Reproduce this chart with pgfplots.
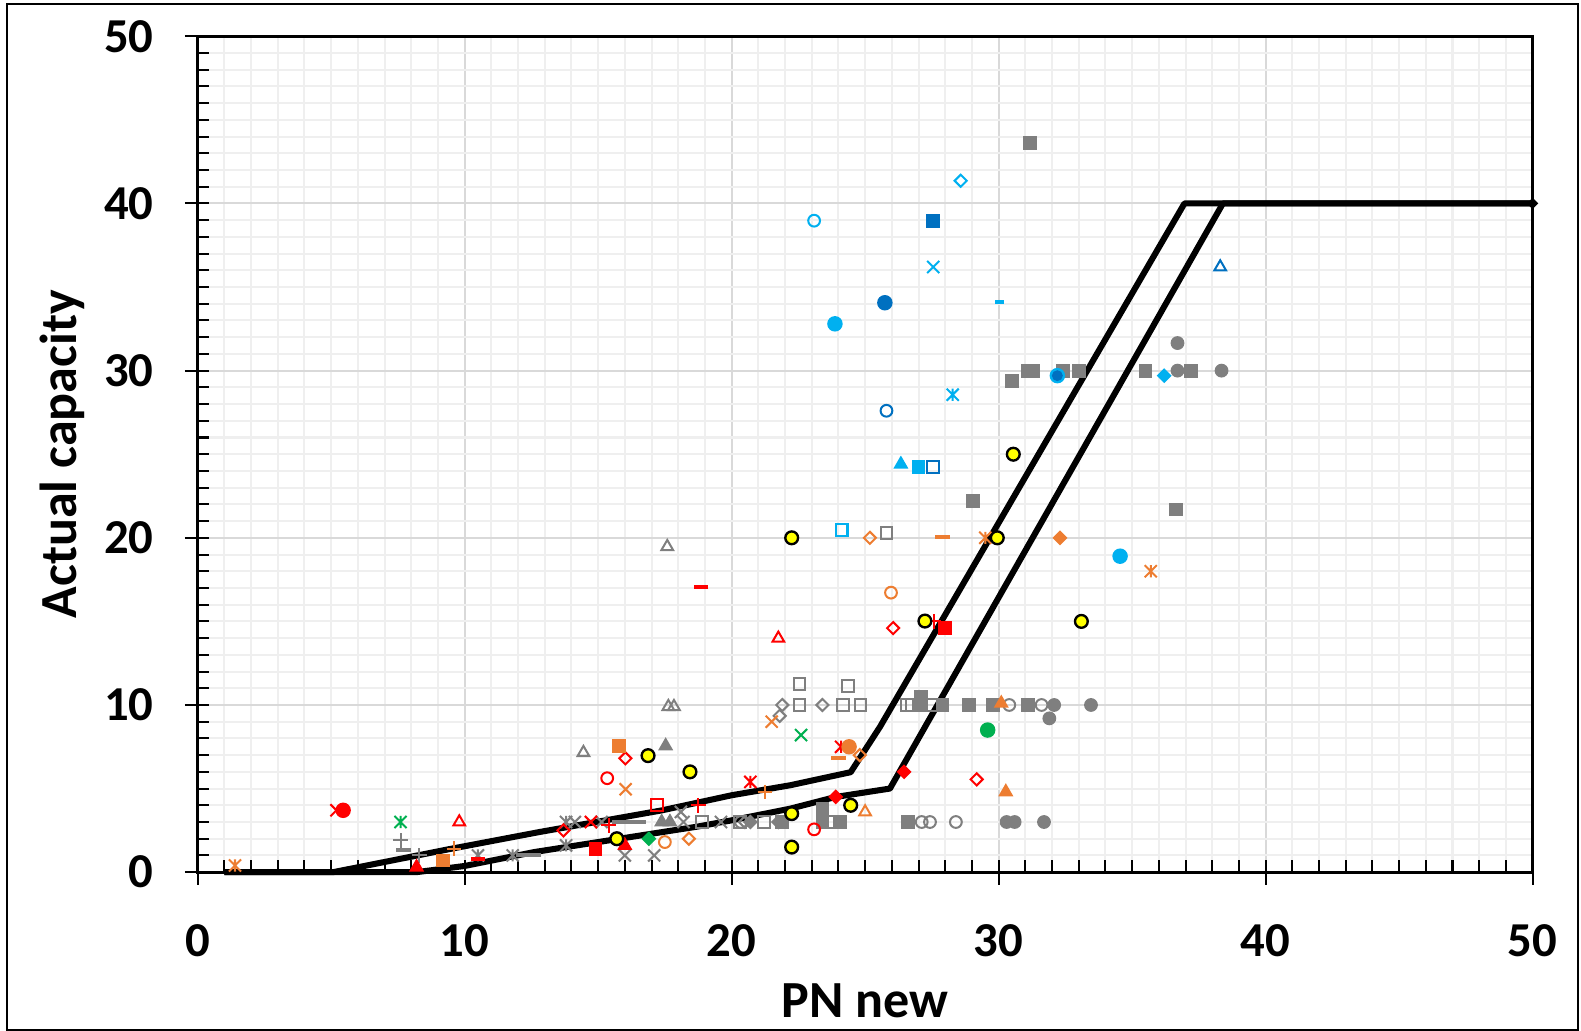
\documentclass[border=0pt]{standalone}
\usepackage{pgfplots}
\pgfplotsset{compat=1.18}
\usepackage{fontspec}
\setmainfont{Carlito}
\definecolor{cgray}{HTML}{7F7F7F}
\definecolor{cred}{HTML}{FF0000}
\definecolor{corange}{HTML}{ED7D31}
\definecolor{clblue}{HTML}{00B0F0}
\definecolor{cdblue}{HTML}{0070C0}
\definecolor{cgreen}{HTML}{00B050}
\definecolor{cyellow}{HTML}{FFFF00}
\definecolor{gmaj}{HTML}{D9D9D9}
\definecolor{gmin}{HTML}{EFEFEF}
\pgfdeclareplotmark{dia}{%
  \pgfpathmoveto{\pgfqpoint{0pt}{\pgfplotmarksize}}%
  \pgfpathlineto{\pgfqpoint{\pgfplotmarksize}{0pt}}%
  \pgfpathlineto{\pgfqpoint{0pt}{-\pgfplotmarksize}}%
  \pgfpathlineto{\pgfqpoint{-\pgfplotmarksize}{0pt}}%
  \pgfpathclose\pgfusepathqstroke}
\pgfdeclareplotmark{dia*}{%
  \pgfpathmoveto{\pgfqpoint{0pt}{\pgfplotmarksize}}%
  \pgfpathlineto{\pgfqpoint{\pgfplotmarksize}{0pt}}%
  \pgfpathlineto{\pgfqpoint{0pt}{-\pgfplotmarksize}}%
  \pgfpathlineto{\pgfqpoint{-\pgfplotmarksize}{0pt}}%
  \pgfpathclose\pgfusepathqfillstroke}
\pgfdeclareplotmark{xstar}{%
  \pgfpathmoveto{\pgfqpoint{-\pgfplotmarksize}{-\pgfplotmarksize}}%
  \pgfpathlineto{\pgfqpoint{\pgfplotmarksize}{\pgfplotmarksize}}%
  \pgfpathmoveto{\pgfqpoint{-\pgfplotmarksize}{\pgfplotmarksize}}%
  \pgfpathlineto{\pgfqpoint{\pgfplotmarksize}{-\pgfplotmarksize}}%
  \pgfpathmoveto{\pgfqpoint{0pt}{-\pgfplotmarksize}}%
  \pgfpathlineto{\pgfqpoint{0pt}{\pgfplotmarksize}}%
  \pgfusepathqstroke}
\pgfdeclareplotmark{xx}{%
  \pgfpathmoveto{\pgfqpoint{-\pgfplotmarksize}{-\pgfplotmarksize}}%
  \pgfpathlineto{\pgfqpoint{\pgfplotmarksize}{\pgfplotmarksize}}%
  \pgfpathmoveto{\pgfqpoint{-\pgfplotmarksize}{\pgfplotmarksize}}%
  \pgfpathlineto{\pgfqpoint{\pgfplotmarksize}{-\pgfplotmarksize}}%
  \pgfusepathqstroke}
\pgfplotsset{
  pt/.style={only marks, mark size=1.75pt, mark options={solid, line width=0.6pt}},
  ptx/.style={only marks, mark size=1.8pt, mark options={solid, line width=0.6pt}},
  ptd/.style={only marks, mark size=1.8pt, mark options={solid, line width=0.6pt}},
}
\begin{document}
\begin{tikzpicture}
\useasboundingbox (-58.8pt,-47.1pt) rectangle (411.6pt,259.5pt);
\draw[line width=0.6pt] (-56.7pt,-47.1pt) rectangle (410.7pt,258.3pt);
\begin{axis}[
  at={(0,0)}, anchor=south west,
  scale only axis, width=397.2pt, height=248.7pt,
  xmin=0, xmax=50, ymin=0, ymax=50,
  xtick={0,10,...,50}, ytick={0,10,...,50},
  minor tick num=9,
  tick pos=left,
  tick align=inside,
  major tick length=3.5pt, minor tick length=3.5pt,
  tick style={black, line width=0.6pt},
  extra x ticks={0,10,...,50}, extra y ticks={0,10,...,50},
  extra x tick labels={}, extra y tick labels={},
  extra tick style={tick align=outside, grid=none, major tick length=3.8pt},
  grid=both,
  major grid style={gmaj, line width=0.6pt},
  minor grid style={gmin, line width=0.6pt},
  axis line style={black, line width=0.8pt},
  /pgf/number format/assume math mode=true,
  ticklabel style={font=\fontsize{14.5}{17}\selectfont\bfseries},
  xticklabel style={anchor=center, yshift=-20.4pt},
  yticklabel style={anchor=east, xshift=-9.6pt},
  xlabel={PN new}, ylabel={Actual capacity},
  label style={font=\fontsize{15.5}{18}\selectfont\bfseries},
  xlabel style={at={(axis description cs:0.5,-0.1544)}, anchor=center},
  ylabel style={at={(axis description cs:-0.1012,0.5)}, anchor=center},
  clip=false,
]
% reference lines
\addplot[black, line width=1.8pt, line join=round, mark=none] coordinates {
 (1,0) (5.08,0) (9.4,1.37) (12.8,2.4) (17.4,3.7) (20.0,4.6) (22.2,5.2) (23.5,5.65) (24.46,5.98) (25.56,8.7) (36.96,40) (50,40)};
\addplot[black, line width=1.8pt, line join=round, mark=none] coordinates {
 (1,0) (8.2,0) (10,0.37) (12.6,1.2) (15.6,1.95) (18.7,2.72) (20.0,3.1) (22.2,3.8) (23.9,4.5) (25.93,5.0) (38.4,40) (50,40)};
\addplot[only marks, mark=dia*, mark size=1.4pt, black] coordinates {(50,40)};
% gray
\addplot[pt, cgray, mark=square*] coordinates {
 (31.17,43.6) (30.5,29.4) (31.1,30) (31.3,30) (32.4,30) (33.0,30) (35.5,30) (37.2,30)
 (29.05,22.2) (36.65,21.7) (27.1,10.5) (27.1,10) (27.9,10) (28.9,10) (29.8,10) (31.1,10)
 (26.6,3) (23.4,3.8) (23.4,3) (24.06,3) (21.9,3)};
\addplot[pt, cgray, mark=*] coordinates {
 (36.7,31.65) (36.7,30) (38.35,30) (32.08,10) (33.46,10) (31.9,9.2) (30.3,3) (30.6,3) (31.7,3)};
\addplot[pt, cgray, mark=triangle*, mark size=2pt] coordinates {
 (17.53,7.55) (17.38,3) (17.69,3)};
\addplot[pt, cgray, mark=triangle, mark size=2pt] coordinates {
 (17.59,19.47) (14.45,7.15) (17.63,9.9) (17.84,9.9)};
\addplot[pt, cgray, mark=square] coordinates {
 (25.8,20.27) (22.54,11.24) (24.35,11.13) (22.54,10) (24.16,10) (24.83,10)
 (26.56,10) (26.74,10) (27.5,10) (23.7,3) (18.9,3) (20.3,3) (21.2,3)};
\addplot[ptd, cgray, mark=dia] coordinates {
 (21.9,10) (21.8,9.35) (23.4,10) (20.5,3)};
\addplot[ptd, cgray, mark=dia*] coordinates {(20.7,3) (21.75,3)};
\addplot[pt, cgray, mark=o] coordinates {
 (30.4,10) (31.61,10) (27.12,3) (27.43,3) (28.4,3) (20.35,3)};
\addplot[ptx, cgray, mark=xx] coordinates {
 (17.1,1.0) (16.0,1.0) (18.1,3.6) (18.2,3.0) (19.6,3) (14.13,3) (15.13,3)};
\addplot[ptx, cgray, mark=xstar] coordinates {
 (13.8,1.6) (13.8,3.0) (10.5,1.0) (11.8,1.0)};
\addplot[pt, cgray, mark=+, mark size=2.2pt] coordinates {(7.6,1.9) (8.3,1.0)};
\addplot[pt, cgray, mark=-, mark size=2.2pt, mark options={line width=1.2pt}] coordinates {
 (7.7,1.3) (12.2,1.0) (12.6,1.0) (15.8,3.0) (16.2,3.0) (16.5,3.0)};
% red
\addplot[pt, cred, mark=*, mark size=2pt] coordinates {(5.45,3.7)};
\addplot[ptx, cred, mark=xx] coordinates {(5.2,3.7) (14.73,3)};
\addplot[pt, cred, mark=triangle, mark size=2pt] coordinates {(9.8,3.0) (21.75,13.99)};
\addplot[pt, cred, mark=triangle*, mark size=2pt] coordinates {(8.2,0.3) (16.0,1.6)};
\addplot[pt, cred, mark=-, mark size=2.2pt, mark options={line width=1.2pt}] coordinates {(10.5,0.8) (18.85,17.04)};
\addplot[ptd, cred, mark=dia] coordinates {(26.05,14.6) (29.18,5.55) (16.02,6.81) (13.7,2.5)};
\addplot[pt, cred, mark=o] coordinates {(15.34,5.62) (23.09,2.56)};
\addplot[ptd, cred, mark=dia*] coordinates {(26.46,6.0) (23.9,4.5)};
\addplot[pt, cred, mark=square*] coordinates {(28.0,14.6) (14.9,1.4)};
\addplot[ptx, cred, mark=xstar] coordinates {(20.7,5.4) (24.1,7.5)};
\addplot[pt, cred, mark=+, mark size=2.2pt] coordinates {(15.4,2.8) (18.75,4.0) (27.58,15.0)};
\addplot[pt, cred, mark=square] coordinates {(17.2,4.0)};
% orange
\addplot[ptx, corange, mark=xstar] coordinates {(1.4,0.4) (29.5,20) (35.7,18.0)};
\addplot[pt, corange, mark=+, mark size=2.2pt] coordinates {(9.6,1.4) (21.25,4.8)};
\addplot[pt, corange, mark=square*] coordinates {(9.2,0.7) (15.78,7.56)};
\addplot[ptx, corange, mark=xx] coordinates {(16.03,4.96) (21.5,9.0)};
\addplot[pt, corange, mark=o] coordinates {(17.5,1.8) (25.97,16.72)};
\addplot[ptd, corange, mark=dia] coordinates {(18.4,2.0) (25.18,20.0) (24.8,7.0)};
\addplot[pt, corange, mark=triangle, mark size=2pt] coordinates {(25.0,3.6)};
\addplot[pt, corange, mark=*, mark size=2pt] coordinates {(24.4,7.5)};
\addplot[pt, corange, mark=-, mark size=2.2pt, mark options={line width=1.2pt}] coordinates {(24.0,6.85) (27.9,20.03)};
\addplot[ptd, corange, mark=dia*] coordinates {(32.3,20)};
\addplot[pt, corange, mark=triangle*, mark size=2pt] coordinates {(30.1,10.1) (30.27,4.8)};
% light blue
\addplot[pt, clblue, mark=o] coordinates {(23.09,38.97)};
\addplot[ptd, clblue, mark=dia] coordinates {(28.58,41.36)};
\addplot[ptx, clblue, mark=xx] coordinates {(27.55,36.2)};
\addplot[pt, clblue, mark=*, mark size=2pt] coordinates {(23.87,32.8) (34.55,18.9) (32.2,29.7)};
\addplot[pt, clblue, mark=-, mark size=1.4pt, mark options={line width=1.2pt}] coordinates {(30.03,34.1)};
\addplot[ptx, clblue, mark=xstar] coordinates {(28.28,28.56)};
\addplot[pt, clblue, mark=triangle*, mark size=2pt] coordinates {(26.34,24.4)};
\addplot[pt, clblue, mark=square*] coordinates {(27.0,24.23)};
\addplot[pt, clblue, mark=square] coordinates {(24.12,20.47)};
\addplot[ptd, clblue, mark=dia*] coordinates {(36.2,29.7)};
% dark blue
\addplot[pt, cdblue, mark=square*] coordinates {(27.55,38.97)};
\addplot[pt, cdblue, mark=*, mark size=2pt] coordinates {(25.74,34.06)};
\addplot[pt, cdblue, mark=*, mark size=1.3pt] coordinates {(32.2,29.7)};
\addplot[pt, cdblue, mark=o] coordinates {(25.8,27.6)};
\addplot[pt, cdblue, mark=square] coordinates {(27.55,24.23)};
\addplot[pt, cdblue, mark=triangle, mark size=2pt] coordinates {(38.3,36.2)};
% green
\addplot[ptx, cgreen, mark=xstar] coordinates {(7.6,3.0)};
\addplot[ptx, cgreen, mark=xx] coordinates {(22.6,8.2)};
\addplot[pt, cgreen, mark=*, mark size=2pt] coordinates {(29.59,8.5)};
\addplot[ptd, cgreen, mark=dia*] coordinates {(16.9,2.0)};
% yellow
\addplot[only marks, mark=*, mark size=1.9pt, mark options={fill=cyellow, draw=black, line width=0.7pt}] coordinates {
 (16.87,6.97) (18.44,6.0) (15.7,2.0) (22.25,20.0) (30.55,25.0) (27.24,15.02)
 (29.95,20.0) (33.1,15.0) (22.25,3.5) (22.25,1.5) (24.46,4.0)};
\end{axis}
\end{tikzpicture}
\end{document}
